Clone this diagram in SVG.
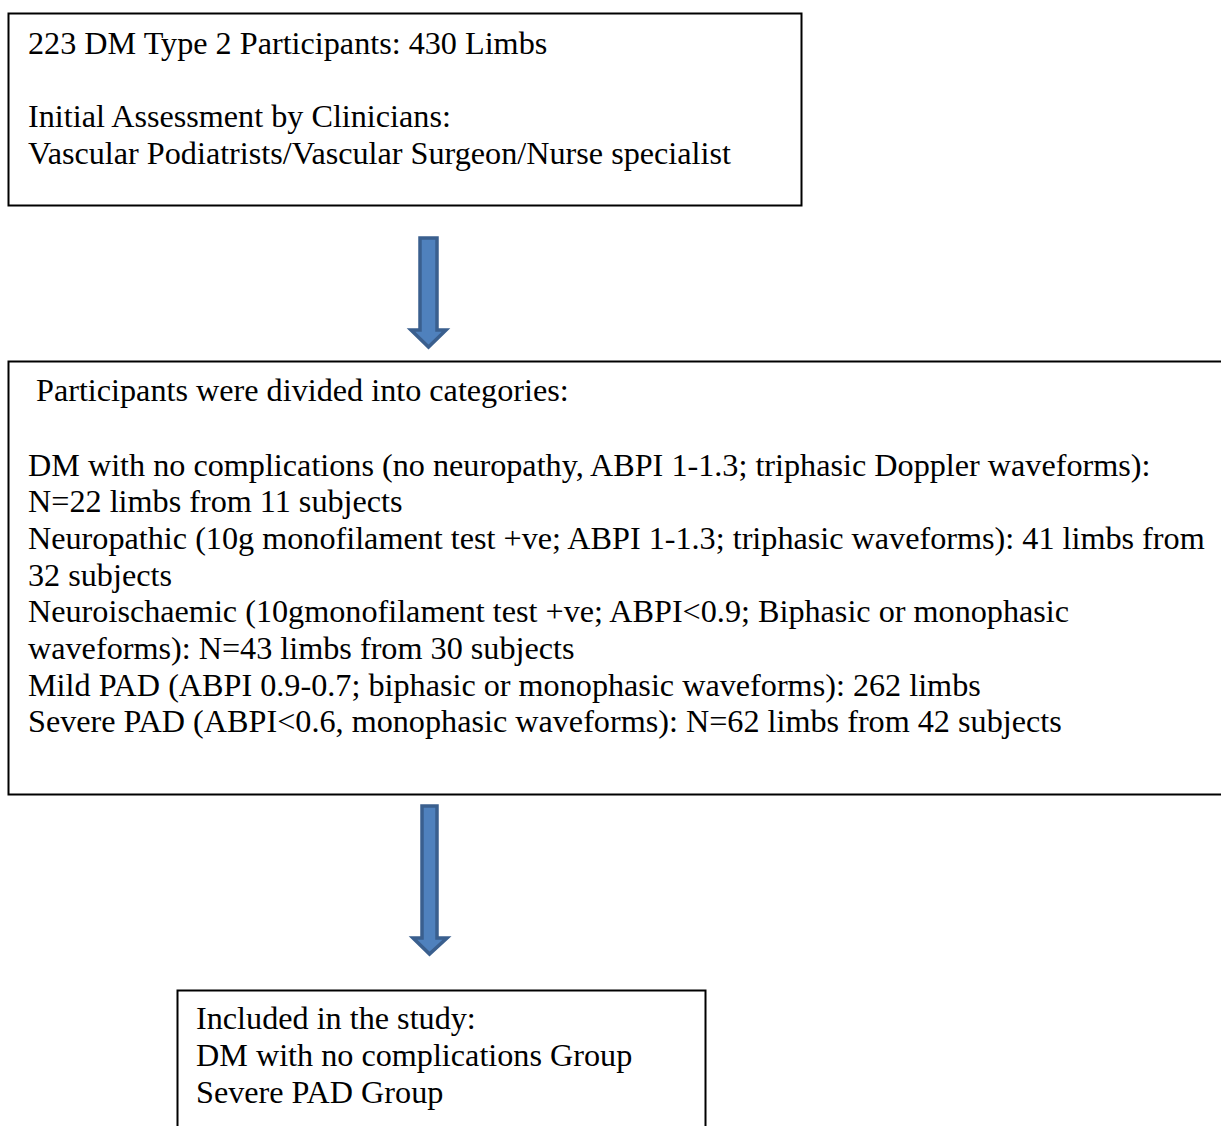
<svg xmlns="http://www.w3.org/2000/svg" width="1221" height="1126" viewBox="0 0 1221 1126">
<style>
.box{fill:#fff;stroke:#000;stroke-width:2}
.t{font-family:"Liberation Serif","Times New Roman",serif;font-size:32.2px;fill:#000}
.arr{fill:#4F81BD;stroke:#3A5F8E;stroke-width:3.5;stroke-linejoin:miter}
</style>
<rect width="1221" height="1126" fill="#fff"/>
<g id="node1">
<rect class="box" x="8.5" y="13.5" width="793" height="192"/>
<text class="t" x="28" y="54">223 DM Type 2 Participants: 430 Limbs</text>
<text class="t" x="28" y="127">Initial Assessment by Clinicians:</text>
<text class="t" x="28" y="164">Vascular Podiatrists/Vascular Surgeon/Nurse specialist</text>
</g>
<g id="node2">
<rect class="box" x="8.5" y="361.5" width="1220" height="433"/>
<text class="t" x="36" y="401">Participants were divided into categories:</text>
<text class="t" x="28" y="476">DM with no complications (no neuropathy, ABPI 1-1.3; triphasic Doppler waveforms):</text>
<text class="t" x="28" y="512">N=22 limbs from 11 subjects</text>
<text class="t" x="28" y="549">Neuropathic (10g monofilament test +ve; ABPI 1-1.3; triphasic waveforms): 41 limbs from</text>
<text class="t" x="28" y="586">32 subjects</text>
<text class="t" x="28" y="622">Neuroischaemic (10gmonofilament test +ve; ABPI&lt;0.9; Biphasic or monophasic</text>
<text class="t" x="28" y="659">waveforms): N=43 limbs from 30 subjects</text>
<text class="t" x="28" y="696">Mild PAD (ABPI 0.9-0.7; biphasic or monophasic waveforms): 262 limbs</text>
<text class="t" x="28" y="732">Severe PAD (ABPI&lt;0.6, monophasic waveforms): N=62 limbs from 42 subjects</text>
</g>
<g id="node3">
<rect class="box" x="177.5" y="990.5" width="528" height="150"/>
<text class="t" x="196" y="1029">Included in the study:</text>
<text class="t" x="196" y="1066">DM with no complications Group</text>
<text class="t" x="196" y="1103">Severe PAD Group</text>
</g>
<g id="connectors">
<path class="arr" d="M420,238 H437 V330 H446 L428.5,347 L411,330 H420 Z"/>
<path class="arr" d="M422,806 H437 V938 H447 L429.5,954 L413,938 H422 Z"/>
</g>
</svg>
